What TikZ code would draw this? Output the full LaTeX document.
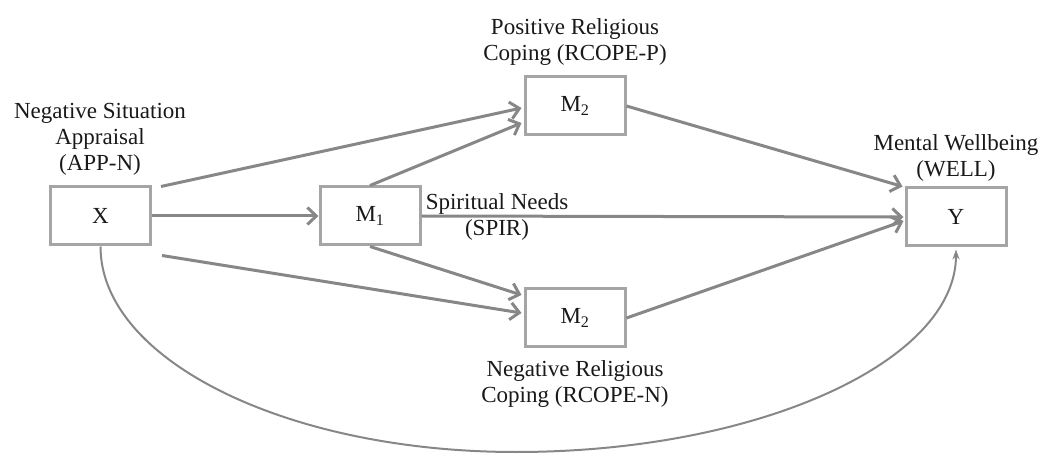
\documentclass[tikz,border=0pt]{standalone}
\usepackage{fontspec}
\setmainfont{Liberation Serif}
\usetikzlibrary{arrows.meta}
\definecolor{boxgray}{RGB}{165,165,165}
\definecolor{linegray}{RGB}{135,135,135}
\definecolor{txt}{RGB}{25,25,25}
\begin{document}
\begin{tikzpicture}[x=1pt,y=-1pt,
  every node/.style={font=\fontsize{23}{26}\selectfont, text=txt},
  varbox/.style={draw=boxgray, line width=3pt, minimum width=100pt, minimum height=58pt, inner sep=0pt, fill=white},
  lbl/.style={align=center, inner sep=0pt},
  arr/.style={draw=linegray, line width=3pt, -{Straight Barb[length=9pt,width=17pt,line width=3pt]}},
  carr/.style={draw=linegray, line width=2pt, -{Stealth[length=10pt,width=7pt]}}
]
\useasboundingbox (0,0) rectangle (1039,454);

\node[varbox] (X)  at (100.5,216) {X};
\node[varbox] (M1) at (370,216) {M\textsubscript{1}};
\node[varbox] (M2t) at (575,106) {M\textsubscript{2}};
\node[varbox] (M2b) at (575,318) {M\textsubscript{2}};
\node[varbox] (Y)  at (956,217) {Y};

\node[lbl] (lx) at (100,139) {Negative Situation\\Appraisal\\(APP-N)};
\node[lbl] (lm2t) at (575,42) {Positive Religious\\Coping (RCOPE-P)};
\node[lbl] (ly) at (956,158) {Mental Wellbeing\\(WELL)};
\node[lbl] (lm1) at (497,217) {Spiritual Needs\\(SPIR)};
\node[lbl] (lm2b) at (575,384) {Negative Religious\\Coping (RCOPE-N)};

\coordinate (bot) at (516,452);

\draw[arr] ([xshift=9pt,yshift=-1pt]X.north east) -- ([xshift=-2pt,yshift=-2pt]M2t.west);
\draw[arr] (M1.north) -- ([xshift=-2pt,yshift=-17pt]M2t.west);
\draw[arr] (X.east) -- (M1.west);
\draw[arr] ([xshift=10pt,yshift=-9pt]X.south east) -- ([xshift=-2pt,yshift=5pt]M2b.west);
\draw[arr] (M1.south) -- ([xshift=-2pt,yshift=23pt]M2b.west);
\draw[arr] (M1.east) -- ([xshift=-1pt]Y.west);
\draw[arr] (M2t.east) -- ([xshift=-2pt]Y.north west);
\draw[arr] (M2b.east) -- ([xshift=-1pt,yshift=-4pt]Y.west);
\draw[carr] (X.south) .. controls (100.5,360) and (286.5,452) .. (bot)
  .. controls (759.6,452) and (956,361) .. ([yshift=-2pt]Y.south);
\end{tikzpicture}
\end{document}
